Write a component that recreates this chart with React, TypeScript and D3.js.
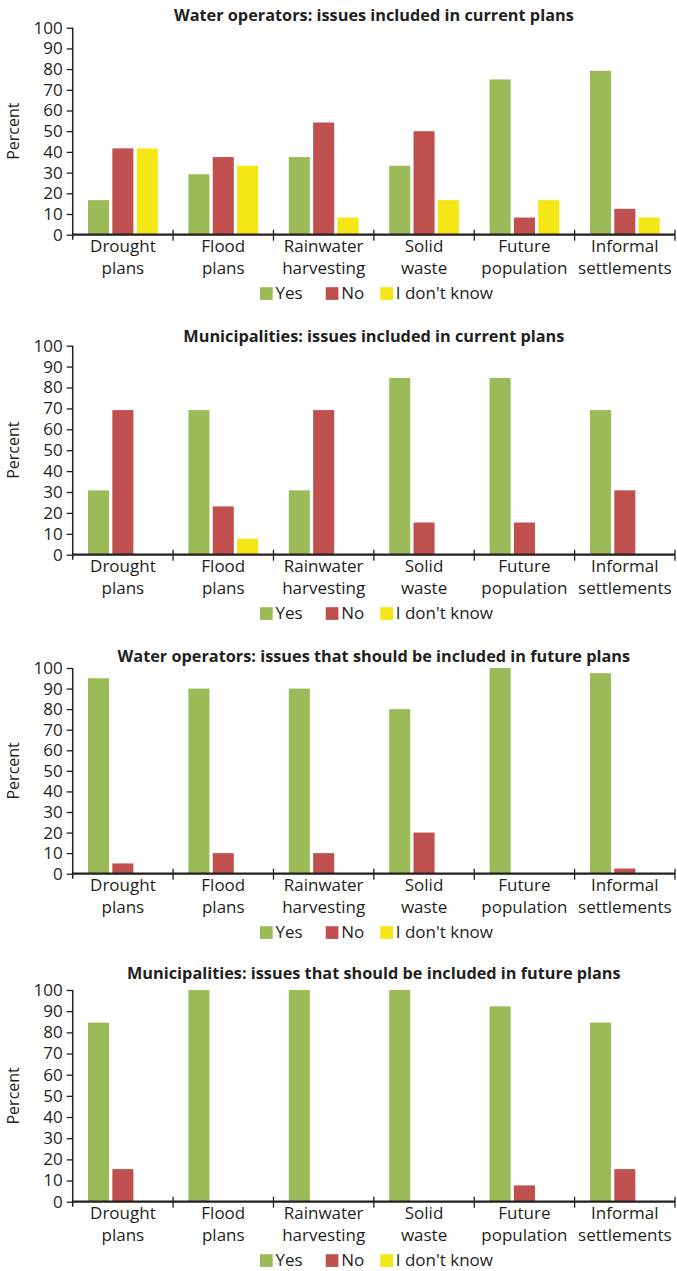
import { useRef, useEffect } from "react";
import * as d3 from "d3";

// Categories (two-line labels)
const categories = [
  ["Drought", "plans"],
  ["Flood", "plans"],
  ["Rainwater", "harvesting"],
  ["Solid", "waste"],
  ["Future", "population"],
  ["Informal", "settlements"],
];
const seriesNames = ["Yes", "No", "I don't know"];
const seriesColors = ["#9bbb59", "#c0504d", "#f5e616"];
const yTicks = [0, 10, 20, 30, 40, 50, 60, 70, 80, 90, 100];

// Water operators: current plans
const waterCurrentYes = [16.7, 29.2, 37.5, 33.3, 75, 79.2];
const waterCurrentNo = [41.7, 37.5, 54.2, 50, 8.3, 12.5];
const waterCurrentDk = [41.7, 33.3, 8.3, 16.7, 16.7, 8.3];

// Municipalities: current plans
const muniCurrentYes = [30.8, 69.2, 30.8, 84.6, 84.6, 69.2];
const muniCurrentNo = [69.2, 23.1, 69.2, 15.4, 15.4, 30.8];
const muniCurrentDk = [0, 7.7, 0, 0, 0, 0];

// Water operators: future plans
const waterFutureYes = [95, 90, 90, 80, 100, 97.5];
const waterFutureNo = [5, 10, 10, 20, 0, 2.5];
const waterFutureDk = [0, 0, 0, 0, 0, 0];

// Municipalities: future plans
const muniFutureYes = [84.6, 100, 100, 100, 92.3, 84.6];
const muniFutureNo = [15.4, 0, 0, 0, 7.7, 15.4];
const muniFutureDk = [0, 0, 0, 0, 0, 0];

const titles = [
  "Water operators: issues included in current plans",
  "Municipalities: issues included in current plans",
  "Water operators: issues that should be included in future plans",
  "Municipalities: issues that should be included in future plans",
];

const panelSeries = [
  [waterCurrentYes, waterCurrentNo, waterCurrentDk],
  [muniCurrentYes, muniCurrentNo, muniCurrentDk],
  [waterFutureYes, waterFutureNo, waterFutureDk],
  [muniFutureYes, muniFutureNo, muniFutureDk],
];

// layout per panel
const panelLayout = [
  { titleY: 20.5, top: 27.7, bottom: 234.7 },
  { titleY: 342, top: 345.7, bottom: 554.7 },
  { titleY: 661.5, top: 668, bottom: 873.7 },
  { titleY: 979, top: 990, bottom: 1201.7 },
];

const W = 677;
const H = 1271;
const LEFT = 72.7;
const RIGHT = 675;
const FONT = "'Open Sans', sans-serif";
const INK = "#231f20";

export default function App() {
  const svgRef = useRef<SVGSVGElement>(null);

  useEffect(() => {
    if (!svgRef.current) return;
    const svg = d3.select(svgRef.current);
    svg.selectAll("*").remove();

    const x0 = d3.scaleBand<number>()
      .domain(d3.range(categories.length))
      .range([LEFT, RIGHT])
      .padding(0);

    const x1 = d3.scaleBand<number>()
      .domain(d3.range(seriesNames.length))
      .range([0, x0.bandwidth()])
      .paddingInner(0.135)
      .paddingOuter(0.63);

    panelLayout.forEach((lay, pi) => {
      const g = svg.append("g");
      const y = d3.scaleLinear().domain([0, 100]).range([lay.bottom, lay.top]);

      // Title
      g.append("text")
        .attr("x", (LEFT + RIGHT) / 2)
        .attr("y", lay.titleY)
        .attr("text-anchor", "middle")
        .attr("font-family", FONT)
        .attr("font-weight", "bold")
        .attr("font-size", "16.3px")
        .attr("fill", INK)
        .text(titles[pi]);

      // Bars
      panelSeries[pi].forEach((vals, si) => {
        g.append("g")
          .selectAll("rect")
          .data(vals)
          .join("rect")
          .attr("x", (_, i) => x0(i)! + x1(si)!)
          .attr("y", d => y(d))
          .attr("width", x1.bandwidth())
          .attr("height", d => lay.bottom - y(d))
          .attr("fill", seriesColors[si]);
      });

      // Y axis
      g.append("g")
        .attr("transform", `translate(${LEFT},0)`)
        .call(d3.axisLeft(y).tickValues(yTicks).tickSize(6).tickPadding(4).tickSizeOuter(0))
        .call(a => a.select(".domain").remove())
        .call(a => a.selectAll(".tick line").attr("stroke", INK).attr("stroke-width", 1.3))
        .call(a => a.selectAll(".tick text")
          .attr("fill", INK)
          .attr("font-family", FONT)
          .attr("font-size", "17px"));

      g.append("line")
        .attr("x1", LEFT).attr("x2", LEFT)
        .attr("y1", lay.top).attr("y2", lay.bottom + 5)
        .attr("stroke", INK).attr("stroke-width", 1.5);

      // X axis line
      g.append("line")
        .attr("x1", LEFT).attr("x2", RIGHT)
        .attr("y1", lay.bottom).attr("y2", lay.bottom)
        .attr("stroke", INK).attr("stroke-width", 2.2);

      // category boundary ticks
      g.append("g")
        .selectAll("line")
        .data(d3.range(1, categories.length + 1))
        .join("line")
        .attr("x1", i => x0(i - 1)! + x0.bandwidth())
        .attr("x2", i => x0(i - 1)! + x0.bandwidth())
        .attr("y1", lay.bottom - 5)
        .attr("y2", lay.bottom + 6)
        .attr("stroke", INK)
        .attr("stroke-width", 1.3);

      // category labels
      const lbl = g.append("g")
        .selectAll("text")
        .data(categories)
        .join("text")
        .attr("text-anchor", "middle")
        .attr("font-family", FONT)
        .attr("font-size", "17px")
        .attr("fill", INK);
      lbl.each(function (d, i) {
        const t = d3.select(this);
        const cx = x0(i)! + x0.bandwidth() / 2;
        t.append("tspan").attr("x", cx).attr("y", lay.bottom + 17.3).text(d[0]);
        t.append("tspan").attr("x", cx).attr("y", lay.bottom + 39.3).text(d[1]);
      });

      // Y axis title
      g.append("text")
        .attr("transform", `translate(19,${(lay.top + lay.bottom) / 2}) rotate(-90)`)
        .attr("text-anchor", "middle")
        .attr("font-family", FONT)
        .attr("font-size", "16px")
        .attr("fill", INK)
        .text("Percent");

      // Legend
      const legX = [260, 325.7, 380.3];
      const legTop = lay.bottom + 52.5;
      seriesNames.forEach((name, si) => {
        g.append("rect")
          .attr("x", legX[si])
          .attr("y", legTop)
          .attr("width", 12.7)
          .attr("height", 12.7)
          .attr("fill", seriesColors[si]);
        g.append("text")
          .attr("x", legX[si] + 15.5)
          .attr("y", legTop + 12)
          .attr("font-family", FONT)
          .attr("font-size", "17px")
          .attr("fill", INK)
          .text(name);
      });
    });
  }, []);

  return (
    <svg
      ref={svgRef}
      width={W}
      height={H}
      viewBox={`0 0 ${W} ${H}`}
      style={{ position: "absolute", left: 0, top: 0, background: "#fff" }}
    />
  );
}
